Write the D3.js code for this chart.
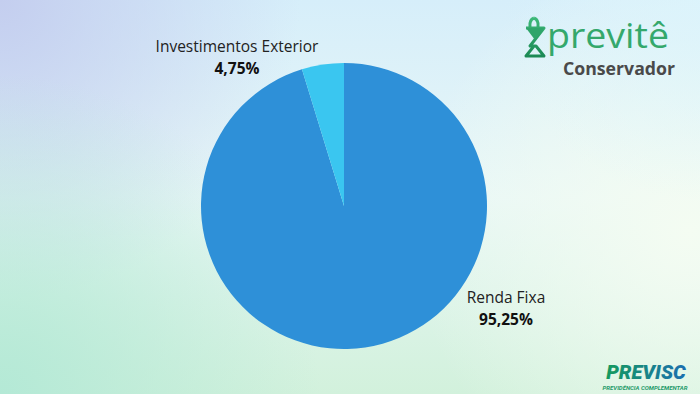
<!DOCTYPE html>
<html>
<head>
<meta charset="utf-8">
<script src="https://cdn.jsdelivr.net/npm/d3@7"></script>
<style>
  body { margin: 0; }
  svg { display: block; }
</style>
</head>
<body>
<svg id="drawing_region"></svg>
<script>
const categories = ["Renda Fixa", "Investimentos Exterior"];
const values = [95.25, 4.75];
const valueLabels = ["95,25%", "4,75%"];
const colors = ["#2e90d8", "#3ac6f0"];

const width = 700, height = 394;
const svg = d3.select('#drawing_region')
    .attr('width', width)
    .attr('height', height);

const defs = svg.append('defs');

// background layers
const lin = defs.append('linearGradient').attr('id', 'bg').attr('x1', 0).attr('y1', 0).attr('x2', 0).attr('y2', 1);
lin.append('stop').attr('offset', '0%').attr('stop-color', '#d6eefa');
lin.append('stop').attr('offset', '50%').attr('stop-color', '#e8f7f6');
lin.append('stop').attr('offset', '100%').attr('stop-color', '#d2f1dc');

function radial(id, cx, cy, r, color, op) {
    const g = defs.append('radialGradient').attr('id', id)
        .attr('gradientUnits', 'userSpaceOnUse')
        .attr('cx', cx).attr('cy', cy).attr('r', r);
    g.append('stop').attr('offset', '0%').attr('stop-color', color).attr('stop-opacity', op);
    g.append('stop').attr('offset', '100%').attr('stop-color', color).attr('stop-opacity', 0);
}
radial('tl', 0, 0, 300, '#c4ceef', 1);
radial('bl', 0, 394, 320, '#b4e9d6', 1);
radial('rm', 690, 230, 280, '#f4fcf2', 1);
radial('tr', 700, 0, 200, '#dcf4fc', 0.8);

svg.append('rect').attr('width', width).attr('height', height).attr('fill', 'url(#bg)');
['tl', 'bl', 'rm', 'tr'].forEach(id => {
    svg.append('rect').attr('width', width).attr('height', height).attr('fill', `url(#${id})`);
});

// pie
const radius = 143;
const chart = svg.append('g').attr('transform', 'translate(344, 206)');
const pie = d3.pie().sort(null).value(d => d);
const arc = d3.arc().innerRadius(0).outerRadius(radius);

chart.selectAll('path')
    .data(pie(values))
    .join('path')
    .attr('d', arc)
    .attr('fill', (d, i) => colors[i]);

// labels
const labelPos = [[506, 297], [237, 46]];
const labels = svg.append('g').attr('font-family', 'Open Sans, sans-serif').attr('text-anchor', 'middle');
categories.forEach((c, i) => {
    labels.append('text')
        .attr('x', labelPos[i][0]).attr('y', labelPos[i][1] + 6)
        .attr('font-size', 15.5).attr('fill', '#222')
        .text(c);
    labels.append('text')
        .attr('x', labelPos[i][0]).attr('y', labelPos[i][1] + 28)
        .attr('font-size', 15.5).attr('font-weight', 'bold').attr('fill', '#111')
        .text(valueLabels[i]);
});

// Previtê logo
const logo = svg.append('g');
const lg = defs.append('linearGradient').attr('id', 'lg').attr('x1', 0).attr('y1', 0).attr('x2', 0).attr('y2', 1);
lg.append('stop').attr('offset', '0%').attr('stop-color', '#3cb878');
lg.append('stop').attr('offset', '100%').attr('stop-color', '#1c8a55');
logo.append('path')
    .attr('d', 'M534,18 Q529,20 530,27 M534,18 Q539,20 538,27 M526,28 L544,28 L530,46 L536,46 L544,56 L526,56 L534,46')
    .attr('fill', 'none').attr('stroke', 'url(#lg)').attr('stroke-width', 3).attr('stroke-linejoin', 'round');
logo.append('path')
    .attr('d', 'M526,28 L544,28 L535,40 Z')
    .attr('fill', '#2fa56a');
logo.append('text')
    .attr('x', 547).attr('y', 48)
    .attr('font-family', 'Open Sans, sans-serif').attr('font-size', 34)
    .attr('textLength', 122).attr('lengthAdjust', 'spacingAndGlyphs')
    .attr('fill', '#34a86c')
    .text('previtê');
logo.append('text')
    .attr('x', 563).attr('y', 75)
    .attr('font-family', 'Open Sans, sans-serif').attr('font-size', 18).attr('font-weight', 'bold')
    .attr('textLength', 112).attr('lengthAdjust', 'spacingAndGlyphs')
    .attr('fill', '#4a4a4a')
    .text('Conservador');

// PREVISC logo
const pg = defs.append('linearGradient').attr('id', 'pg').attr('x1', 0).attr('y1', 0).attr('x2', 1).attr('y2', 0);
pg.append('stop').attr('offset', '0%').attr('stop-color', '#159a5e');
pg.append('stop').attr('offset', '100%').attr('stop-color', '#1a6fb0');
svg.append('text')
    .attr('x', 646).attr('y', 379)
    .attr('text-anchor', 'middle')
    .attr('font-family', 'Roboto, sans-serif').attr('font-size', 20)
    .attr('font-weight', 900).attr('font-style', 'italic')
    .attr('fill', 'url(#pg)')
    .text('PREVISC');
svg.append('text')
    .attr('x', 645).attr('y', 390)
    .attr('text-anchor', 'middle')
    .attr('font-family', 'Roboto, sans-serif').attr('font-size', 6)
    .attr('font-weight', 'bold').attr('font-style', 'italic')
    .attr('fill', '#1f9a6a')
    .text('PREVIDÊNCIA COMPLEMENTAR');
</script>
</body>
</html>
